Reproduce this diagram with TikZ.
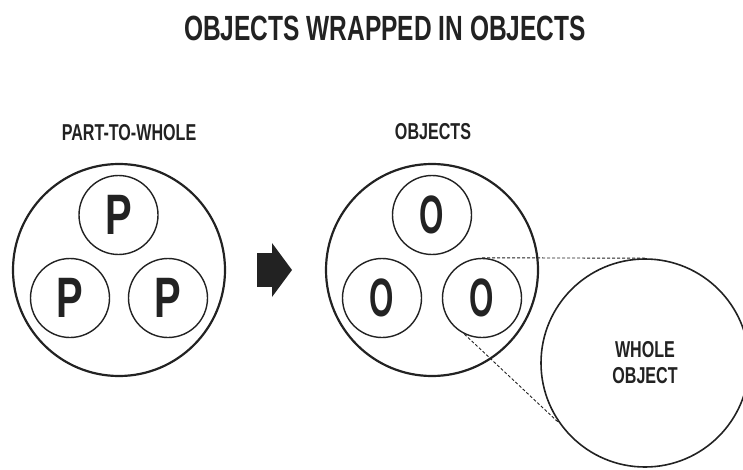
\documentclass[tikz,border=0pt]{standalone}
\usepackage{fontspec}
\newfontfamily\condfont{Liberation Sans}[FakeStretch=0.70]
\newfontfamily\narrowfont{Liberation Sans}[FakeStretch=0.58]
\usetikzlibrary{positioning}

\definecolor{ink}{HTML}{222222}

\tikzset{
  outer/.style={circle, draw=ink, line width=2.2pt, minimum size=212pt, inner sep=0pt},
  part/.style={circle, draw=ink, line width=1.4pt, minimum size=79pt, inner sep=0pt,
    text=ink, font=\condfont\bfseries\fontsize{57}{57}\selectfont},
  obj/.style={part, font=\narrowfont\bfseries\fontsize{54}{54}\selectfont},
  whole/.style={circle, draw=ink, line width=1.6pt, minimum size=208pt, inner sep=0pt,
    align=center, text=ink, font=\condfont\bfseries\fontsize{23}{26}\selectfont},
  caption/.style={text=ink, inner sep=0pt, font=\condfont\bfseries\fontsize{23}{26}\selectfont},
  link/.style={draw=ink, densely dashed, line width=0.9pt},
}

\begin{document}
\begin{tikzpicture}[x=1pt, y=1pt]
        \useasboundingbox (0,0) rectangle (743,469);

        \node [caption, font=\condfont\bfseries\fontsize{35}{40}\selectfont] (title) at (385,441) {OBJECTS WRAPPED IN OBJECTS};

        % part-to-whole
        \node [caption] (ptw) at (129,336) {PART-TO-WHOLE};
        \node [outer] (left) at (119,199) {};
        \node [part] (p1) at (118.5,254) {P};
        \node [part] (p2) at (70,171) {P};
        \node [part] (p3) at (168,171) {P};

        \coordinate (shaft) at (257,182);
        \fill [ink] (shaft) rectangle ++(16,34);
        \fill [ink] (272,226) -- (292,199) -- (272,172) -- cycle;

        % objects
        \node [caption] (objs) at (433,337) {OBJECTS};
        \node [outer] (right) at (432,199) {};
        \node [obj] (o1) at (432,254) {O};
        \node [obj] (o2) at (382,171) {O};
        \node [obj] (o3) at (482,171) {O};

        \node [whole] (w) at (645,106) {WHOLE\\OBJECT};

        \draw [link] (o3.north) -- (w.north);
        \draw [link] (o3.244) -- (w.215);
      \end{tikzpicture}
\end{document}
